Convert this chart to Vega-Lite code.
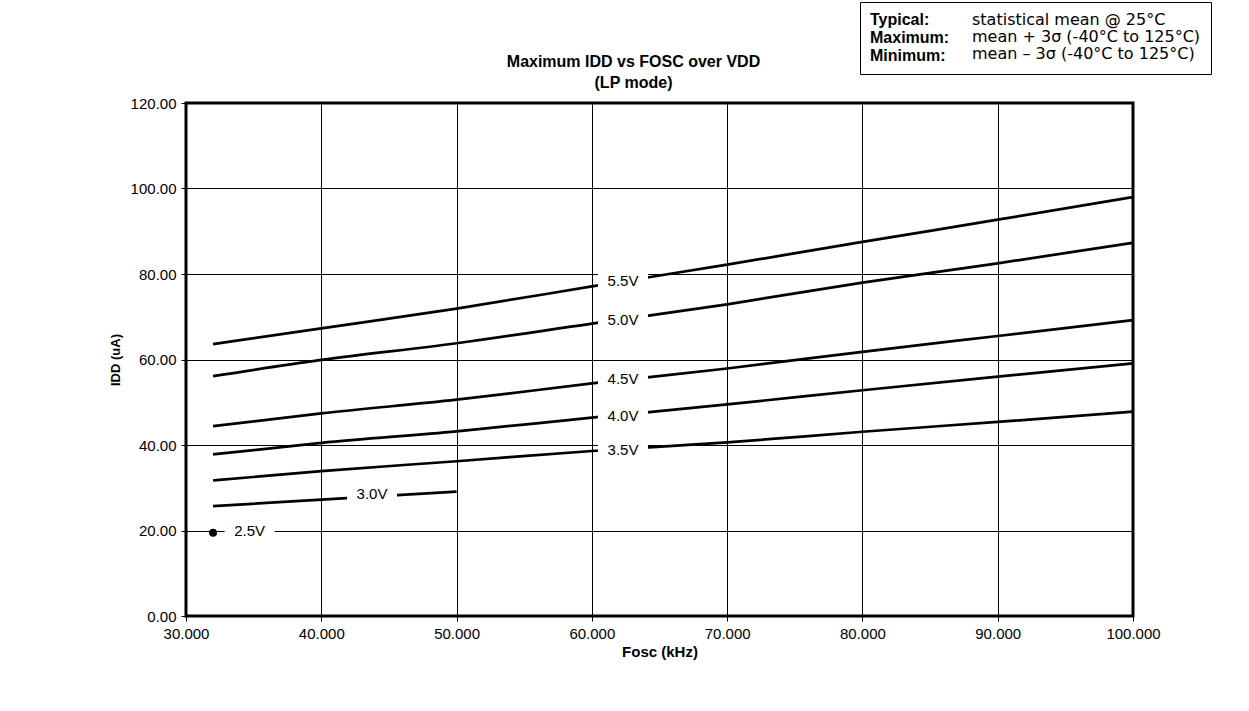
{
  "$schema": "https://vega.github.io/schema/vega-lite/v6.json",
  "width": 947,
  "height": 513,
  "autosize": {"type": "none"},
  "padding": {"left": 186, "top": 103, "right": 116, "bottom": 95},
  "background": "white",
  "title": {
    "text": ["Maximum IDD vs FOSC over VDD", "(LP mode)"],
    "font": "Liberation Sans",
    "fontSize": 16,
    "fontWeight": "bold",
    "color": "black",
    "lineHeight": 21,
    "anchor": "middle",
    "frame": "group",
    "dx": -26,
    "dy": 89,
    "offset": 0
  },
  "datasets": {
    "curves": [
      {"vdd": "5.5V", "fosc": 32, "idd": 63.6},
      {"vdd": "5.5V", "fosc": 40, "idd": 67.3},
      {"vdd": "5.5V", "fosc": 50, "idd": 71.9},
      {"vdd": "5.5V", "fosc": 60, "idd": 77.1},
      {"vdd": "5.5V", "fosc": 70, "idd": 82.2},
      {"vdd": "5.5V", "fosc": 80, "idd": 87.5},
      {"vdd": "5.5V", "fosc": 90, "idd": 92.7},
      {"vdd": "5.5V", "fosc": 100, "idd": 98.0},
      {"vdd": "5.0V", "fosc": 32, "idd": 56.1},
      {"vdd": "5.0V", "fosc": 40, "idd": 59.9},
      {"vdd": "5.0V", "fosc": 50, "idd": 63.8},
      {"vdd": "5.0V", "fosc": 60, "idd": 68.4},
      {"vdd": "5.0V", "fosc": 70, "idd": 72.9},
      {"vdd": "5.0V", "fosc": 80, "idd": 78.0},
      {"vdd": "5.0V", "fosc": 90, "idd": 82.5},
      {"vdd": "5.0V", "fosc": 100, "idd": 87.3},
      {"vdd": "4.5V", "fosc": 32, "idd": 44.4},
      {"vdd": "4.5V", "fosc": 40, "idd": 47.4},
      {"vdd": "4.5V", "fosc": 50, "idd": 50.6},
      {"vdd": "4.5V", "fosc": 60, "idd": 54.4},
      {"vdd": "4.5V", "fosc": 70, "idd": 57.9},
      {"vdd": "4.5V", "fosc": 80, "idd": 61.8},
      {"vdd": "4.5V", "fosc": 90, "idd": 65.5},
      {"vdd": "4.5V", "fosc": 100, "idd": 69.2},
      {"vdd": "4.0V", "fosc": 32, "idd": 37.8},
      {"vdd": "4.0V", "fosc": 40, "idd": 40.5},
      {"vdd": "4.0V", "fosc": 50, "idd": 43.2},
      {"vdd": "4.0V", "fosc": 60, "idd": 46.4},
      {"vdd": "4.0V", "fosc": 70, "idd": 49.5},
      {"vdd": "4.0V", "fosc": 80, "idd": 52.8},
      {"vdd": "4.0V", "fosc": 90, "idd": 56.0},
      {"vdd": "4.0V", "fosc": 100, "idd": 59.1},
      {"vdd": "3.5V", "fosc": 32, "idd": 31.7},
      {"vdd": "3.5V", "fosc": 40, "idd": 33.9},
      {"vdd": "3.5V", "fosc": 50, "idd": 36.2},
      {"vdd": "3.5V", "fosc": 60, "idd": 38.6},
      {"vdd": "3.5V", "fosc": 70, "idd": 40.6},
      {"vdd": "3.5V", "fosc": 80, "idd": 43.1},
      {"vdd": "3.5V", "fosc": 90, "idd": 45.4},
      {"vdd": "3.5V", "fosc": 100, "idd": 47.8},
      {"vdd": "3.0V", "fosc": 32, "idd": 25.7},
      {"vdd": "3.0V", "fosc": 40, "idd": 27.2},
      {"vdd": "3.0V", "fosc": 50, "idd": 29.1},
      {"vdd": "2.5V", "fosc": 32, "idd": 19.5}
    ],
    "labels": [
      {"vdd": "5.5V", "fosc": 62.3, "idd": 78.4},
      {"vdd": "5.0V", "fosc": 62.3, "idd": 69.3},
      {"vdd": "4.5V", "fosc": 62.3, "idd": 55.5},
      {"vdd": "4.0V", "fosc": 62.3, "idd": 46.9},
      {"vdd": "3.5V", "fosc": 62.3, "idd": 38.9},
      {"vdd": "3.0V", "fosc": 43.75, "idd": 28.5},
      {"vdd": "2.5V", "fosc": 34.7, "idd": 20.0}
    ],
    "notes": [
      {"desc": "statistical mean @ 25°C"},
      {"desc": "mean + 3σ (-40°C to 125°C)"},
      {"desc": "mean – 3σ (-40°C to 125°C)"}
    ]
  },
  "config": {
    "font": "Liberation Sans",
    "view": {"stroke": "black", "strokeWidth": 3},
    "axis": {
      "grid": true,
      "gridColor": "black",
      "gridOpacity": 1,
      "gridWidth": 1,
      "domain": false,
      "tickColor": "black",
      "tickSize": 5,
      "tickWidth": 1,
      "labelFont": "Liberation Sans",
      "labelFontSize": 15,
      "labelColor": "black",
      "labelPadding": 5,
      "labelFlush": false,
      "labelOverlap": false,
      "titleFont": "Liberation Sans",
      "titleFontWeight": "bold",
      "titleColor": "black"
    }
  },
  "layer": [
    {
      "data": {"name": "curves"},
      "transform": [{"filter": "datum.vdd != '2.5V'"}],
      "mark": {"type": "line", "color": "black", "strokeWidth": 2.7, "interpolate": "monotone"},
      "encoding": {
        "x": {
          "field": "fosc", "type": "quantitative",
          "scale": {"domain": [30, 100], "nice": false, "zero": false},
          "axis": {"title": "Fosc (kHz)", "values": [30, 40, 50, 60, 70, 80, 90, 100], "format": ".3f", "titlePadding": 3, "titleFontSize": 15}
        },
        "y": {
          "field": "idd", "type": "quantitative",
          "scale": {"domain": [0, 120], "nice": false},
          "axis": {"title": "IDD (uA)", "values": [0, 20, 40, 60, 80, 100, 120], "format": ".2f", "titlePadding": 8, "titleFontSize": 13}
        },
        "detail": {"field": "vdd", "type": "nominal"}
      }
    },
    {
      "data": {"name": "curves"},
      "transform": [{"filter": "datum.vdd == '2.5V'"}],
      "mark": {"type": "point", "filled": true, "color": "black", "opacity": 1, "size": 64},
      "encoding": {
        "x": {"field": "fosc", "type": "quantitative"},
        "y": {"field": "idd", "type": "quantitative"}
      }
    },
    {
      "data": {"name": "labels"},
      "mark": {"type": "point", "shape": "M-1,-0.3H1V0.3H-1Z", "filled": true, "fill": "white", "opacity": 1, "size": 2500, "strokeWidth": 0},
      "encoding": {
        "x": {"field": "fosc", "type": "quantitative"},
        "y": {"field": "idd", "type": "quantitative"}
      }
    },
    {
      "data": {"name": "labels"},
      "mark": {"type": "text", "font": "Liberation Sans", "fontSize": 15, "color": "black", "align": "center", "baseline": "middle"},
      "encoding": {
        "x": {"field": "fosc", "type": "quantitative"},
        "y": {"field": "idd", "type": "quantitative"},
        "text": {"field": "vdd", "type": "nominal"}
      }
    },
    {
      "data": {"name": "notes"},
      "mark": {"type": "point", "opacity": 0},
      "encoding": {
        "shape": {
          "field": "desc", "type": "nominal",
          "scale": {"domain": ["statistical mean @ 25°C", "mean + 3σ (-40°C to 125°C)", "mean – 3σ (-40°C to 125°C)"]},
          "legend": {
            "orient": "none",
            "legendX": 674,
            "legendY": -101,
            "title": ["Typical:", "Maximum:", "Minimum:"],
            "titleOrient": "left",
            "titleAnchor": "start",
            "titleAlign": "left",
            "titleBaseline": "top",
            "titleFont": "Liberation Sans",
            "titleFontSize": 16,
            "titleFontWeight": "bold",
            "titleColor": "black",
            "titleLineHeight": 18,
            "titlePadding": 6,
            "labelFont": "DejaVu Sans",
            "labelFontSize": 16,
            "labelColor": "black",
            "labelLimit": 400,
            "labelOffset": 0,
            "symbolSize": 0,
            "symbolOpacity": 0,
            "symbolStrokeWidth": 0,
            "rowPadding": 1,
            "padding": 10,
            "strokeColor": "black",
            "encode": {"legend": {"update": {"strokeWidth": {"value": 2}}}}
          }
        }
      }
    }
  ]
}
